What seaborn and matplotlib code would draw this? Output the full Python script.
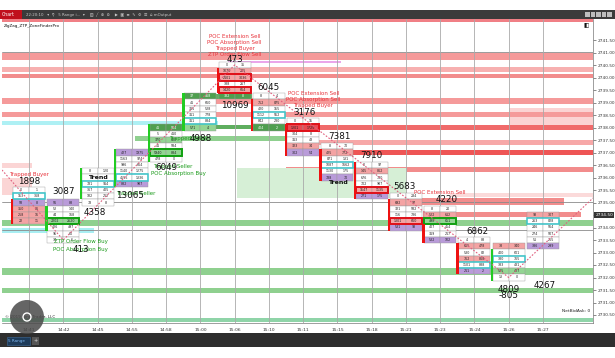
import numpy as np
import pandas as pd
import matplotlib
matplotlib.use("Agg")
import matplotlib.pyplot as plt
import seaborn as sns
from matplotlib.patches import Rectangle, Ellipse
import matplotlib.transforms as mtransforms

sns.set_theme(style="white")
plt.rcParams['font.family'] = ['DejaVu Sans']

# ---------------- data ----------------
times = ["14:41", "14:42", "14:45", "14:55", "14:58", "15:00", "15:06", "15:10",
         "15:11", "15:15", "15:18", "15:21", "15:23", "15:24", "15:26", "15:27"]
bar_top = [2735.5, 2735.0, 2736.25, 2737.0, 2738.0, 2739.25, 2740.5, 2739.25,
           2738.25, 2737.25, 2736.5, 2735.25, 2734.75, 2733.5, 2733.25, 2734.5]
bids = [[0, 153, 58, 350, 258, 22],
        [56, 52, 44, 2202, 426, 95, 34],
        [8, 45, 781, 367, 182, 78],
        [427, 1163, 996, 1140, 4555, 882],
        [41, 5, 370, 41, 5940, 478],
        [37, 41, 311, 311, 311, 571],
        [0, 1070, 2101, 388, 1420, 332],
        [8, 752, 420, 1112, 842, 404],
        [0, 1201, 304, 313, 323, 302],
        [8, 425, 871, 1087, 1130, 788],
        [0, 145, 676, 702, 1547, 271],
        [0, 692, 321, 116, 1301, 531],
        [8, 522, 498, 407, 319, 532],
        [4, 655, 530, 762, 1101, 211],
        [38, 400, 380, 383, 535, 13],
        [93, 263, 246, 274, 51, 386]]
asks = [[1, 368, 8, 86, 16, 11],
        [88, 140, 168, 2620, 497, 60, 6],
        [120, 52, 914, 405, 212, 8],
        [1975, 974, 664, 1275, 1336, 987],
        [504, 410, 422, 584, 884, 0],
        [468, 660, 528, 778, 884, 4],
        [35, 205, 3036, 267, 664, 8],
        [4, 875, 155, 552, 230, 2],
        [15, 1725, 8, 48, 34, 54],
        [70, 772, 131, 1662, 175, 70],
        [97, 862, 700, 987, 1135, 175],
        [284, 97, 582, 736, 660, 93],
        [20, 612, 651, 454, 217, 102],
        [88, 478, 82, 868, 888, 2],
        [340, 601, 765, 431, 427, 0],
        [307, 828, 564, 507, 255, 299]]
fills = ["wwprrr", "pwwgwww", "wwwwww", "pwwwwp", "Gwgwgw", "Gwwwwg",
         "wrrwrG", "wrwwwG", "wRwwrp", "wrwwwp", "wrwwrp", "wrwwrp",
         "wrgwwp", "wrwrwp", "rwwwgw", "rwwwwp"]
poc_row = [1, None, 2, 4, None, 4, None, 3, None, 3, None, None, None, 4, 2, 1]
sell_box = [[], [], [], [], [], [], [2, 4], [], [1], [], [4], [4], [], [], [], []]
buy_box = [[], [3], [], [], [4], [], [], [], [], [], [], [], [2], [], [], []]
strip_dir = ["r", "g", "g", "g", "g", "g", "r", "r", "r", "r", "r", "r", "r", "r", "g", ""]
strip_from = [2, 1, 0, 0, 0, 0, 1, 1, 1, 1, 0, 1, 3, 1, 1, 0]
strip_to = [5, 4, 4, 5, 5, 5, 4, 5, 5, 5, 5, 5, 5, 5, 5, 0]
trend_row = [None, None, 1, None, None, None, None, None, None, None, None, None, None, None, None, None]

# zigzag swing points (bar index, price)
zz_x = [-0.79, 1.0, 6.0, 14.0, 16.46]
zz_p = [2736.3, 2733.5, 2740.5, 2732.0, 2735.18]

# signal / volume labels
sig_text = ["Trapped Buyer", "1898", "3087", "4358", "Trapped Seller", "13065",
            "Trapped Seller", "POC Absorption Buy", "6049",
            "Trapped Seller", "4988", "10969",
            "POC Extension Sell", "POC Absorption Sell", "Trapped Buyer", "ZTP Order Flow Sell", "473",
            "6045", "POC Extension Sell", "POC Absorption Sell", "Trapped Buyer", "3176",
            "7381", "Trend", "Trend", "7910", "5683", "POC Extension Sell", "4220", "6862",
            "4809", "-805", "4267", "ZTP Order Flow Buy", "POC Absorption Buy", "413"]
sig_x = [0.0, 0.0, 1.0, 1.93, 3.1, 2.95,
         4.2, 4.35, 4.0,
         4.65, 5.0, 6.0,
         6.0, 6.0, 6.0, 6.0, 6.0,
         7.0, 8.3, 8.3, 8.3, 8.05,
         9.05, 9.0, 2.0, 10.0, 10.95, 12.0, 12.2, 13.1,
         14.0, 14.0, 15.05, 1.5, 1.5, 1.5]
sig_p = [2736.14, 2735.86, 2735.42, 2734.62, 2735.38, 2735.3,
         2736.46, 2736.18, 2736.38,
         2737.56, 2737.56, 2738.9,
         2741.66, 2741.42, 2741.18, 2740.94, 2740.72,
         2739.62, 2739.38, 2739.12, 2738.88, 2738.62,
         2737.66, 2735.82, 2736.0, 2736.86, 2735.66, 2735.38, 2735.14, 2733.86,
         2731.54, 2731.28, 2731.7, 2733.42, 2733.14, 2733.12]
sig_kind = ["sell", "vol", "vol", "vol", "buy", "vol",
            "buy", "buy", "vol",
            "buy", "vol", "vol",
            "sell", "sell", "sell", "sell", "vol",
            "vol", "sell", "sell", "sell", "vol",
            "vol", "trend", "trend", "vol", "vol", "sell", "vol", "vol",
            "vol", "vol", "vol", "buy", "buy", "vol"]

# horizontal zones: price low, price high, start bar, end bar, colour
zone_lo = [2742.22, 2740.70, 2740.58, 2740.22, 2739.98, 2738.95, 2737.90, 2738.42,
           2738.10, 2737.95, 2737.90, 2737.46, 2737.30, 2736.90, 2736.22, 2735.18,
           2735.22, 2734.90, 2734.42, 2734.05, 2733.80, 2732.10, 2731.38, 2730.22,
           2735.30, 2736.40, 2739.15]
zone_hi = [2742.34, 2741.00, 2740.68, 2740.42, 2740.14, 2739.18, 2738.78, 2738.62,
           2738.25, 2738.10, 2738.10, 2737.66, 2737.50, 2737.10, 2736.42, 2736.38,
           2735.38, 2735.18, 2734.62, 2734.30, 2734.00, 2732.38, 2731.58, 2730.38,
           2736.00, 2736.60, 2739.35]
zone_x0 = [-0.79, -0.79, 5.8, -0.79, -0.79, -0.79, 14.0, -0.79,
           -0.79, 4.5, 7.3, 3.1, 8.0, 7.5, 7.5, 6.07,
           12.3, 11.4, 11.5, -0.79, -0.79, -0.79, -0.79, -0.79,
           -0.79, -0.79, 4.5]
zone_x1 = [16.46, 16.46, 9.1, 16.46, 16.46, 16.46, 16.46, 16.46,
           5.5, 7.5, 16.46, 8.4, 16.46, 16.46, 16.46, 11.03,
           16.46, 15.6, 16.1, 16.46, 1.9, 16.46, 16.46, 16.46,
           0.1, 0.1, 6.5]
zone_col = ["#f07f85", "#f59a9a", "#eaa6ea", "#f7b0b0", "#f28c8c", "#f59a9a", "#fbd3d3", "#f59a9a",
            "#aef0f4", "#5fae5f", "#f06a6a", "#8fd08f", "#f7a8a8", "#ee5555", "#f28c8c", "#d6efd6",
            "#fbdada", "#f28c8c", "#f28c8c", "#8fd08f", "#a8eef2", "#8fd08f", "#8fd08f", "#8fd4a8",
            "#fbd5d5", "#fbd5d5", "#5fae5f"]
level_lines = [2741.02, 2735.02, 2733.9]

yticks = [2730.5 + 0.5 * k for k in range(23)]
last_price = 2734.5

# ---------------- figure ----------------
W, H = 615, 358
fig = plt.figure(figsize=(W / 100, H / 100), dpi=100)
fig.patch.set_facecolor("white")

def fx(px):
    return px / W

def fy(py):
    return 1 - py / H

ax = fig.add_axes([fx(2), fy(323), fx(593) - fx(2), fy(19) - fy(323)])
ax.set_facecolor("white")
ax.set_xlim(-0.79, 16.46)
ax.set_ylim(2730.18, 2742.34)

# zones
for lo, hi, x0, x1, c in zip(zone_lo, zone_hi, zone_x0, zone_x1, zone_col):
    ax.add_patch(Rectangle((x0, lo), x1 - x0, hi - lo, facecolor=c, edgecolor="none", zorder=1))

for lv in level_lines:
    ax.axhline(lv, color="#8a8a8a", lw=0.6, zorder=1.5)

for i in range(len(times)):
    ax.axvline(i, color="#a9a9a9", lw=0.6, zorder=1.6)

fill_col = {"w": "#ffffff", "r": "#f4a3a3", "R": "#e84a52", "g": "#93d593",
            "G": "#4f9f4f", "p": "#b99bd9"}
half = 0.467
rh = 0.25
for i in range(len(times)):
    top = bar_top[i]
    for r, (b, a) in enumerate(zip(bids[i], asks[i])):
        p = top - r * rh
        fc = fill_col[fills[i][r]]
        for cx, val in ((i - half, b), (i, a)):
            ax.add_patch(Rectangle((cx, p - rh / 2), half, rh, facecolor=fc,
                                   edgecolor="#9a9a9a", lw=0.3, zorder=3))
            if trend_row[i] != r:
                ax.text(cx + half / 2, p, str(val), fontsize=2.3, ha="center", va="center",
                        color="white" if fills[i][r] == "G" else "#222222", zorder=4)
    if poc_row[i] is not None:
        p = top - poc_row[i] * rh
        ax.add_patch(Rectangle((i - half, p - rh / 2), 2 * half, rh, facecolor="none",
                               edgecolor="#3cc8cc", lw=1.1, zorder=5))
    for r in sell_box[i]:
        p = top - r * rh
        ax.add_patch(Rectangle((i - half, p - rh / 2), 2 * half, rh, facecolor="none",
                               edgecolor="#e01018", lw=1.4, zorder=5))
    for r in buy_box[i]:
        p = top - r * rh
        ax.add_patch(Rectangle((i - half, p - rh / 2), 2 * half, rh, facecolor="none",
                               edgecolor="#10a010", lw=1.4, zorder=5))
    if strip_dir[i]:
        c = "#ee1111" if strip_dir[i] == "r" else "#22cc22"
        y0 = top - strip_to[i] * rh - rh / 2
        y1 = top - strip_from[i] * rh + rh / 2
        ax.add_patch(Rectangle((i - half - 0.06, y0), 0.07, y1 - y0, facecolor=c,
                               edgecolor="none", zorder=5))

# zigzag
zz = pd.DataFrame({"x": zz_x, "p": zz_p})
sns.lineplot(data=zz, x="x", y="p", sort=False, ax=ax, color="#e0607f",
             lw=0.8, linestyle=(0, (1.5, 1.5)), zorder=6)

# labels
for t, x, p, k in zip(sig_text, sig_x, sig_p, sig_kind):
    if k == "sell":
        ax.text(x, p, t, fontsize=4.0, color="#e8343c", ha="center", va="center", zorder=7)
    elif k == "buy":
        ax.text(x, p, t, fontsize=4.0, color="#1a9a1a", ha="center", va="center", zorder=7)
    elif k == "trend":
        ax.text(x, p, t, fontsize=4.5, color="#111111", ha="center", va="center",
                fontweight="bold", zorder=7)
    else:
        ax.text(x, p, t, fontsize=6.3, color="#111111", ha="center", va="center", zorder=7)

# axes styling
ax.yaxis.tick_right()
ax.set_yticks(yticks)
ax.set_yticklabels(["" if v == last_price else f"{v:.2f}" for v in yticks],
                   fontsize=3.1, color="#222222")
ax.set_xticks(range(len(times)))
ax.set_xticklabels(times, fontsize=3.2, color="#222222")
ax.tick_params(axis="both", length=2, width=0.4, pad=1.5, colors="#333333")
ax.set_xlabel("")
ax.set_ylabel("")
for s in ["top", "left"]:
    ax.spines[s].set_visible(False)
ax.spines["right"].set_color("#777777")
ax.spines["right"].set_linewidth(0.5)
ax.spines["bottom"].set_color("#777777")
ax.spines["bottom"].set_linewidth(0.5)

# current price marker
trans = mtransforms.blended_transform_factory(ax.transAxes, ax.transData)
ax.text(1.004, last_price, f"{last_price:.2f}", transform=trans, fontsize=3.1, color="white",
        ha="left", va="center", zorder=10,
        bbox=dict(boxstyle="square,pad=0.25", fc="#333333", ec="none"))

ax.text(0.003, 0.985, "ZigZag_ZTP_ZoneFinderPro", transform=ax.transAxes,
        fontsize=3.0, color="#111111", ha="left", va="top", zorder=10)
ax.text(0.995, 0.04, "NetBidAsk: 0", transform=ax.transAxes,
        fontsize=3.2, color="#222222", ha="right", va="center", zorder=10)
ax.text(0.005, 0.02, "© 2019 NinjaTrader, LLC", transform=ax.transAxes,
        fontsize=3.0, color="#222222", ha="left", va="center", zorder=10)

# ---------------- window chrome ----------------
fig.patches.append(Rectangle((0, fy(19)), 1, fy(10) - fy(19), transform=fig.transFigure,
                             facecolor="#3b3b3b", edgecolor="none", zorder=0))
fig.patches.append(Rectangle((0, fy(19)), fx(22), fy(10) - fy(19), transform=fig.transFigure,
                             facecolor="#c0101c", edgecolor="none", zorder=1))
fig.text(fx(2), fy(14.5), "Chart", fontsize=3.4, color="white", va="center", ha="left")
fig.text(fx(26), fy(14.5), "22:20:10   ▾  ⚲   5 Range i...  ▾    ▥  ╱  ⊕  ⊖    ▶  ▣  ≡  ✎  ⚙  ☰  ⌂ mOutput",
         fontsize=2.8, color="#c8c8c8", va="center", ha="left")
for k in range(5):
    fig.patches.append(Rectangle((fx(585 + k * 5.5), fy(17)), fx(4.5), fy(12) - fy(17),
                                 transform=fig.transFigure, facecolor="#bdbdbd",
                                 edgecolor="none", zorder=1))
fig.text(fx(584), fy(26), "◧", fontsize=4, color="#111111", va="center", ha="left")

# bottom bar
fig.patches.append(Rectangle((0, fy(347)), 1, fy(333) - fy(347), transform=fig.transFigure,
                             facecolor="#2e2e2e", edgecolor="none", zorder=0))
fig.patches.append(Rectangle((fx(7), fy(345)), fx(23), fy(337) - fy(345), transform=fig.transFigure,
                             facecolor="#1d3b5a", edgecolor="#3d6b9a", lw=0.4, zorder=1))
fig.text(fx(8.5), fy(341), "5 Range", fontsize=3.0, color="#7fb6ee", va="center", ha="left")
fig.patches.append(Rectangle((fx(32), fy(345)), fx(7), fy(337) - fy(345), transform=fig.transFigure,
                             facecolor="#555555", edgecolor="none", zorder=1))
fig.text(fx(35.5), fy(341), "+", fontsize=3.6, color="#dddddd", va="center", ha="center")

# screenshot-lens overlay circle
fig.patches.append(Ellipse((fx(27), fy(317)), fx(34), fy(300) - fy(334), transform=fig.transFigure,
                           facecolor="#4a4a4a", alpha=0.85, edgecolor="none", zorder=20))
fig.patches.append(Ellipse((fx(27), fy(317)), fx(8), fy(313) - fy(321), transform=fig.transFigure,
                           facecolor="none", edgecolor="white", lw=1.0, zorder=21))

fig.savefig("out.png", dpi=100)
